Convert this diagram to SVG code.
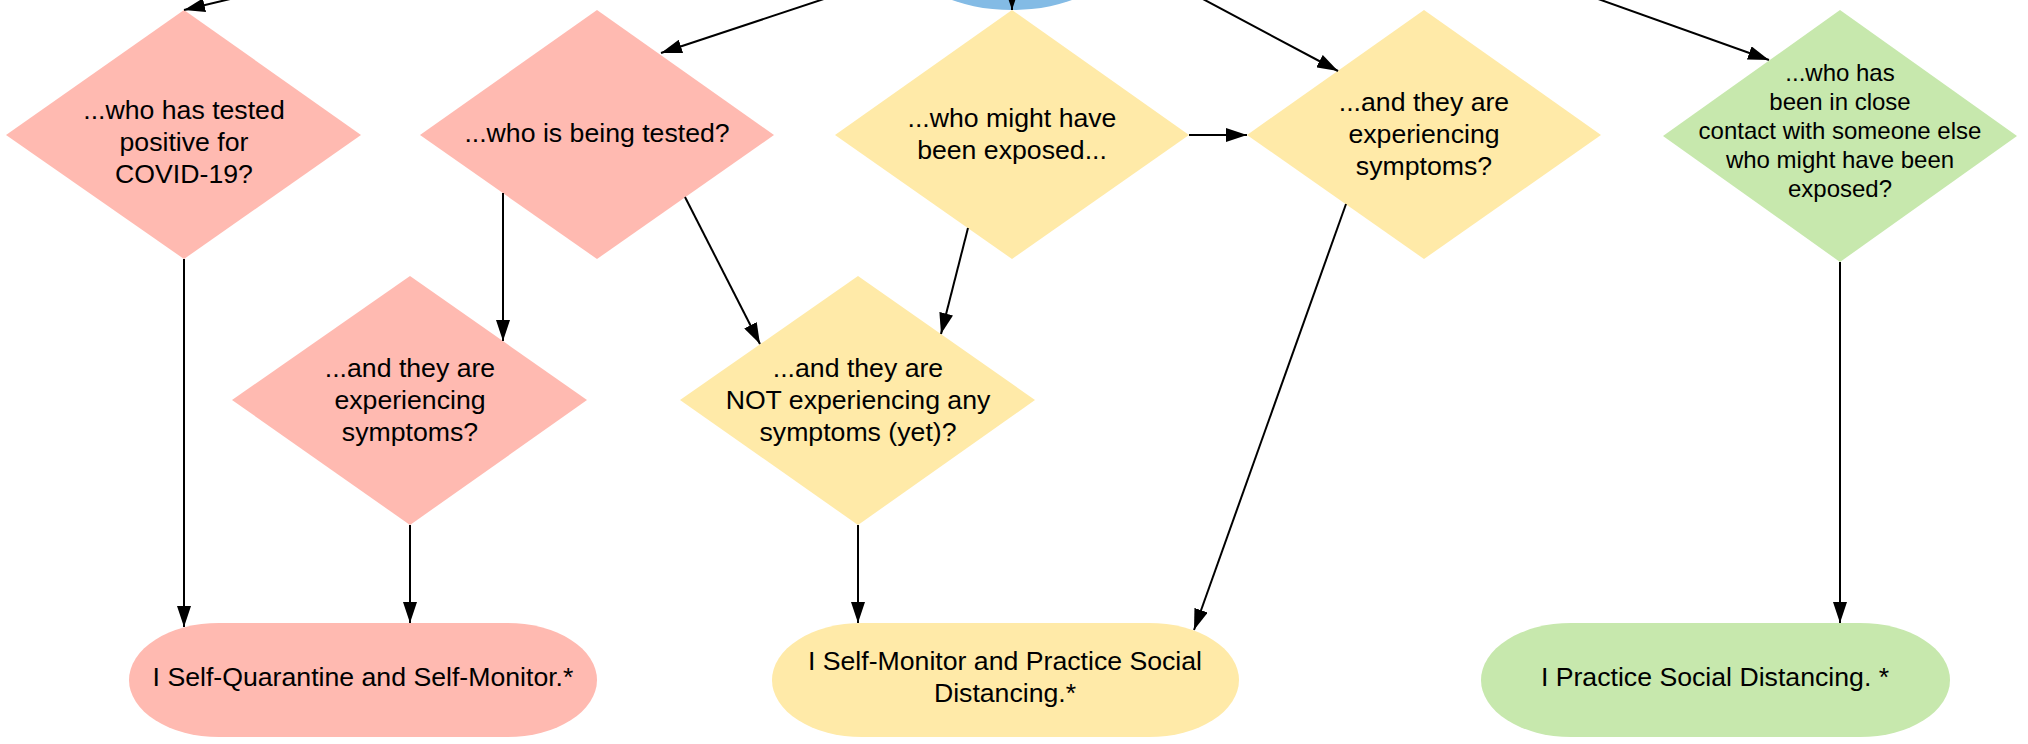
<svg xmlns="http://www.w3.org/2000/svg" width="2028" height="744" viewBox="0 0 2028 744">
<style>
.pink{fill:#ffbab1}
.yellow{fill:#ffeaa8}
.green{fill:#c7e8ad}
.blue{fill:#83bbe5}
text{font-family:"Liberation Sans",Arial,sans-serif;fill:#000;text-anchor:middle}
.t{font-size:26.67px}
.s{font-size:24px}
.edge{stroke:#000;stroke-width:2;fill:none;marker-end:url(#arr)}
</style>
<defs>
<marker id="arr" markerUnits="userSpaceOnUse" markerWidth="22" markerHeight="14" refX="21" refY="7" orient="auto">
<path d="M0,0 L21,7 L0,14 z" fill="#000"/>
</marker>
</defs>
<rect width="2028" height="744" fill="#fff"/>
<g id="start"><ellipse class="blue" cx="1012" cy="-40" rx="100" ry="50"/></g>
<g id="d1"><polygon class="pink" points="184,10 361,135 184,259 6,135"/>
<text class="t" x="184" y="119">...who has tested</text><text class="t" x="184" y="151">positive for</text><text class="t" x="184" y="183">COVID-19?</text></g>
<g id="d2"><polygon class="pink" points="597,10 774,135 597,259 420,135"/>
<text class="t" x="597" y="142">...who is being tested?</text></g>
<g id="d3"><polygon class="yellow" points="1012,10 1189,135 1012,259 835,135"/>
<text class="t" x="1012" y="127">...who might have</text><text class="t" x="1012" y="159">been exposed...</text></g>
<g id="d4"><polygon class="yellow" points="1424,10 1601,135 1424,259 1247,135"/>
<text class="t" x="1424" y="111">...and they are</text><text class="t" x="1424" y="143">experiencing</text><text class="t" x="1424" y="175">symptoms?</text></g>
<g id="d7"><polygon class="green" points="1840,10 2017,136 1840,262 1663,136"/>
<text class="s" x="1840" y="81">...who has</text><text class="s" x="1840" y="110">been in close</text><text class="s" x="1840" y="139">contact with someone else</text><text class="s" x="1840" y="168">who might have been</text><text class="s" x="1840" y="197">exposed?</text></g>
<g id="d5"><polygon class="pink" points="410,276 587,400 410,525 232,400"/>
<text class="t" x="410" y="377">...and they are</text><text class="t" x="410" y="409">experiencing</text><text class="t" x="410" y="441">symptoms?</text></g>
<g id="d6"><polygon class="yellow" points="858,276 1035,400 858,525 680,400"/>
<text class="t" x="858" y="377">...and they are</text><text class="t" x="858" y="409">NOT experiencing any</text><text class="t" x="858" y="441">symptoms (yet)?</text></g>
<g id="p1"><rect class="pink" x="129" y="623" width="468" height="114" rx="90" ry="57"/>
<text class="t" x="363" y="686">I Self-Quarantine and Self-Monitor.*</text></g>
<g id="p2"><rect class="yellow" x="772" y="623" width="467" height="114" rx="90" ry="57"/>
<text class="t" x="1005" y="670">I Self-Monitor and Practice Social</text><text class="t" x="1005" y="702">Distancing.*</text></g>
<g id="p3"><rect class="green" x="1481" y="623" width="469" height="114" rx="90" ry="57"/>
<text class="t" x="1715" y="686">I Practice Social Distancing. *</text></g>
<g id="connectors">
<path class="edge" d="M268,-10 L184,10"/>
<path class="edge" d="M851,-10 L661,53"/>
<path class="edge" d="M1012,-20 L1012,10"/>
<path class="edge" d="M1186,-10 L1338,71"/>
<path class="edge" d="M1573,-10 L1769,60"/>
<path class="edge" d="M1189,135 L1247,135"/>
<path class="edge" d="M184,259 L184,627"/>
<path class="edge" d="M503,193 L503,341"/>
<path class="edge" d="M685,197 L760,344"/>
<path class="edge" d="M968,228 L941,334"/>
<path class="edge" d="M1346,204 L1194,630"/>
<path class="edge" d="M410,525 L410,623"/>
<path class="edge" d="M858,525 L858,623"/>
<path class="edge" d="M1840,262 L1840,623"/>
</g>
</svg>
